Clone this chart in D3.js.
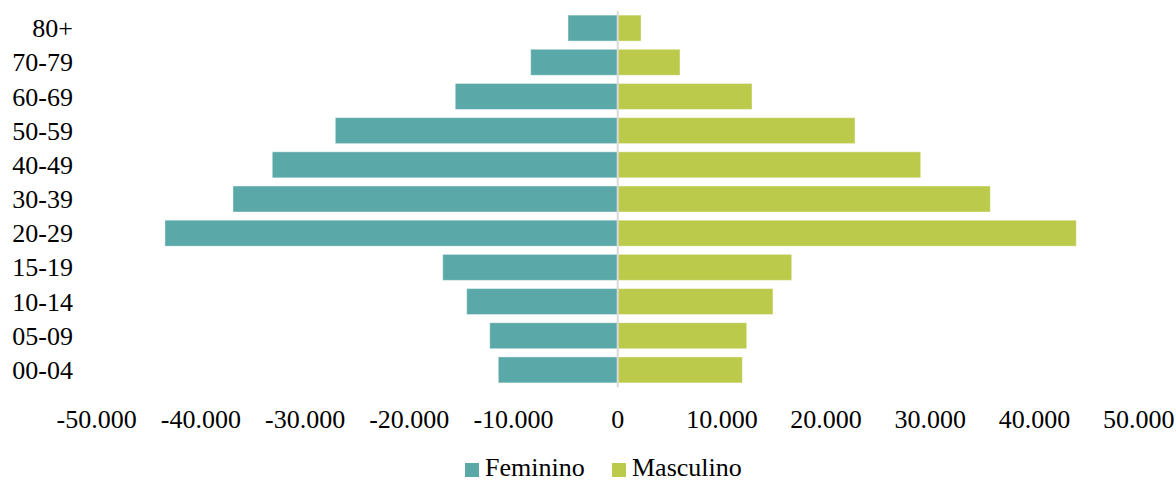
<!DOCTYPE html>
<html>
<head>
<meta charset="utf-8">
<script src="https://cdn.jsdelivr.net/npm/d3@7"></script>
<style>
  html, body { margin: 0; padding: 0; background: #fff; }
  text { font-family: "Liberation Serif", "Times New Roman", serif; fill: #000; }
</style>
</head>
<body>
<div id="svgcontainer"></div>
<script>
// age groups, top to bottom
let ageGroups = ["80+", "70-79", "60-69", "50-59", "40-49", "30-39", "20-29", "15-19", "10-14", "05-09", "00-04"];
let feminino = [4770, 8350, 15590, 27100, 33150, 36920, 43450, 16790, 14490, 12280, 11460];
let masculino = [2240, 5980, 12890, 22770, 29080, 35760, 44010, 16700, 14900, 12380, 11960];
let xTicks = [-50000, -40000, -30000, -20000, -10000, 0, 10000, 20000, 30000, 40000, 50000];
let seriesNames = ["Feminino", "Masculino"];

let width = 1176;
let height = 482;
let colors = { Feminino: "#5ba8a9", Masculino: "#bcca4c" };

let ptBR = d3.formatLocale({ decimal: ",", thousands: ".", grouping: [3], currency: ["R$", ""], minus: "-" });
let fmt = ptBR.format(",");

let rows = ageGroups.map((g, i) => ({ group: g, f: feminino[i], m: masculino[i] }));

let svg = d3.select("#svgcontainer")
    .append("svg")
    .attr("width", width)
    .attr("height", height);

var x = d3.scaleLinear()
    .domain([-50000, 50000])
    .range([96.7, 1138.7]);

var y = d3.scaleBand()
    .domain(ageGroups)
    .range([11, 387])
    .paddingInner(0.24)
    .paddingOuter(0.12);

// female bars (left)
svg.append("g").selectAll("rect")
    .data(rows)
    .enter()
    .append("rect")
    .attr("x", d => x(-d.f))
    .attr("y", d => y(d.group))
    .attr("width", d => x(0) - x(-d.f))
    .attr("height", y.bandwidth())
    .style("fill", colors.Feminino)
    .style("stroke", "rgba(255,255,255,0.4)")
    .style("stroke-width", 1);

// male bars (right)
svg.append("g").selectAll("rect")
    .data(rows)
    .enter()
    .append("rect")
    .attr("x", x(0))
    .attr("y", d => y(d.group))
    .attr("width", d => x(d.m) - x(0))
    .attr("height", y.bandwidth())
    .style("fill", colors.Masculino)
    .style("stroke", "rgba(255,255,255,0.4)")
    .style("stroke-width", 1);

// zero line
svg.append("line")
    .attr("x1", x(0)).attr("x2", x(0))
    .attr("y1", 11).attr("y2", 387)
    .style("stroke", "#d9d9d9")
    .style("stroke-width", 2);

// y labels
svg.append("g").selectAll("text")
    .data(ageGroups)
    .enter()
    .append("text")
    .attr("x", 73)
    .attr("y", d => y(d) + y.bandwidth() / 2)
    .attr("dy", "0.35em")
    .attr("text-anchor", "end")
    .style("font-size", "26px")
    .text(d => d);

// x labels
svg.append("g").selectAll("text")
    .data(xTicks)
    .enter()
    .append("text")
    .attr("x", d => x(d))
    .attr("y", 428)
    .attr("text-anchor", "middle")
    .style("font-size", "26px")
    .text(d => fmt(d));

// legend
let legendX = [465, 612];
let legend = svg.append("g").selectAll("g")
    .data(seriesNames)
    .enter()
    .append("g")
    .attr("transform", (d, i) => "translate(" + legendX[i] + ",463)");
legend.append("rect")
    .attr("width", 14)
    .attr("height", 14)
    .style("fill", d => colors[d]);
legend.append("text")
    .attr("x", 20)
    .attr("y", 13)
    .style("font-size", "26px")
    .text(d => d);
</script>
</body>
</html>
